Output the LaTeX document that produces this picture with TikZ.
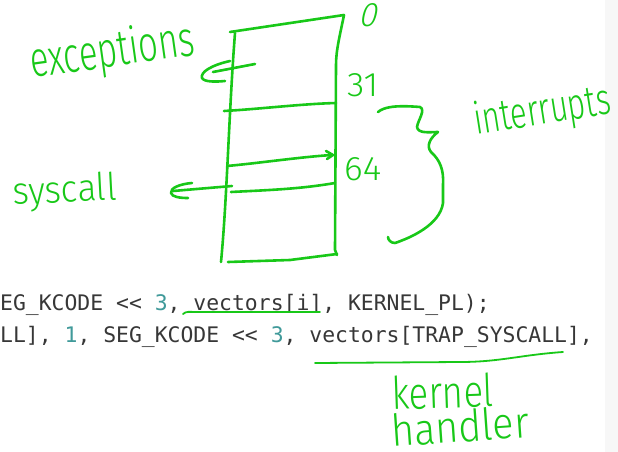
\documentclass[tikz,border=0pt]{standalone}
\usepackage{fontspec}
\usepackage{graphicx}
\newfontfamily\codefont{DejaVu Sans Mono}
\newfontfamily\handfont{Fira Sans}[UprightFont=* Light]
\newfontfamily\handslant{Fira Sans}[UprightFont=* Light, FakeSlant=0.25]
\newcommand{\hwtext}[4][\handfont]{\resizebox{#2}{\height}{#1\fontsize{#3}{#3}\selectfont #4}}
\definecolor{ink}{RGB}{24,200,24}
\definecolor{codetext}{RGB}{55,55,55}
\definecolor{codenum}{RGB}{64,154,154}
\definecolor{strip}{RGB}{247,247,247}
\tikzset{
  pen/.style={draw=ink, line width=2.6pt, line cap=round, line join=round},
  thinpen/.style={draw=ink, line width=1.8pt, line cap=round, line join=round},
  hand/.style={text=ink, inner sep=0pt, anchor=base west},
  code/.style={text=codetext, inner sep=0pt, anchor=base west, font=\codefont\fontsize{21.4}{26}\selectfont},
}
\frenchspacing
\begin{document}
\begin{tikzpicture}[x=1pt,y=-1pt]
\useasboundingbox (0,0) rectangle (618,452);
\fill[white] (0,0) rectangle (618,452);
\fill[strip] (605,0) rectangle (618,452);
% code lines
\node[code] (line1) at (0,310) {EG\_KCODE <{}< \textcolor{codenum}{3}, vectors[i], KERNEL\_PL);};
\node[code] (line2) at (0,342) {LL], \textcolor{codenum}{1}, SEG\_KCODE <{}< \textcolor{codenum}{3}, vectors[TRAP\_SYSCALL],};
% underlines
\draw[thinpen] (183,314) .. controls (186,311) and (190,312) .. (196,312) -- (320,312);
\draw[thinpen] (315,363) -- (460,362) .. controls (500,362) and (520,355) .. (563,352);
% table rectangle
\draw[pen] (230,32) -- (344,15) .. controls (340,35) and (336,50) .. (336,65) -- (335,250) -- (337,255);
\draw[pen] (228,262) -- (290,260) -- (337,254);
\draw[pen] (235,33) .. controls (229,110) and (227,200) .. (221,262);
% dividers
\draw[pen] (224,111) .. controls (260,109) and (300,104) .. (336,103);
\draw[pen] (227,166) .. controls (260,163) and (300,157) .. (332,155);
\draw[pen] (326,151) -- (333,155) -- (327,159);
\draw[pen] (231,192) .. controls (270,190) and (300,189) .. (335,183);
% exceptions arrow
\draw[pen] (255,64) -- (213,72);
\draw[pen] (230,61) .. controls (212,65) and (200,72) .. (202,78) .. controls (204,82) and (215,82) .. (225,81);
% syscall arrow
\draw[pen] (232,186) -- (173,191);
\draw[pen] (192,183) .. controls (180,184) and (170,188) .. (171,193) .. controls (172,197) and (180,198) .. (188,198);
% brace
\draw[pen] (378,112) .. controls (384,107) and (395,105) .. (420,107) .. controls (426,110) and (418,120) .. (417,127) .. controls (418,134) and (430,132) .. (438,132) .. controls (430,138) and (426,146) .. (431,152) .. controls (440,160) and (444,170) .. (443,185) -- (443,203) .. controls (440,225) and (410,238) .. (395,243) .. controls (391,243) and (388,240) .. (388,237);
% handwritten labels
\node[hand, rotate=8] (exc) at (32,78) {\hwtext{166pt}{50}{exceptions}};
\node[hand, rotate=3] (sys) at (13,205) {\hwtext{104pt}{38}{syscall}};
\node[hand, rotate=9] (intr) at (476,135) {\hwtext{138pt}{44}{interrupts}};
\node[hand, rotate=2] (kern) at (392,410) {\hwtext{102pt}{45}{kernel}};
\node[hand, rotate=4] (hand) at (392,447) {\hwtext{138pt}{44}{handler}};
\node[hand] (n0) at (358,27) {\hwtext[\handslant]{18pt}{34}{0}};
\node[hand] (n31) at (347,96) {\hwtext{31pt}{34}{31}};
\node[hand] (n64) at (344,180) {\hwtext{37pt}{34}{64}};
\end{tikzpicture}
\end{document}
